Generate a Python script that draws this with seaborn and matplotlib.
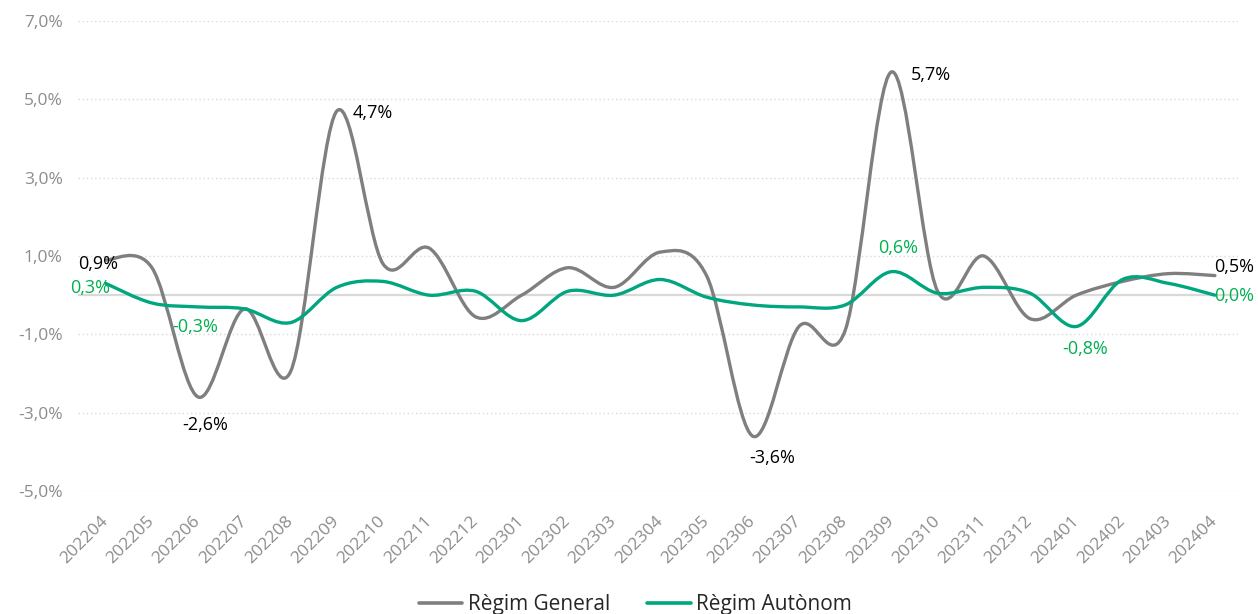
import numpy as np
import pandas as pd
import seaborn as sns
import matplotlib.pyplot as plt
from matplotlib.path import Path
from matplotlib.patches import PathPatch
from matplotlib.lines import Line2D

months = ["202204", "202205", "202206", "202207", "202208", "202209", "202210",
          "202211", "202212", "202301", "202302", "202303", "202304", "202305",
          "202306", "202307", "202308", "202309", "202310", "202311", "202312",
          "202401", "202402", "202403", "202404"]
general = [0.9, 0.7, -2.6, -0.35, -1.95, 4.7, 0.8, 1.2, -0.55, 0.0, 0.7, 0.2, 1.1,
           0.5, -3.6, -0.8, -0.9, 5.7, 0.1, 1.0, -0.6, 0.0, 0.35, 0.55, 0.5]
autonom = [0.3, -0.2, -0.3, -0.35, -0.7, 0.2, 0.35, 0.0, 0.1, -0.65, 0.1, 0.0, 0.4,
           -0.05, -0.25, -0.3, -0.25, 0.6, 0.05, 0.2, 0.05, -0.8, 0.4, 0.3, 0.0]

series = ["Règim General", "Règim Autònom"]
line_colors = {"Règim General": "#7f7f7f", "Règim Autònom": "#00a67e"}
label_colors = {"Règim General": "#000000", "Règim Autònom": "#00b050"}

# which points carry a label, and where the label sits (pixel offsets)
gen_label_idx = [0, 2, 5, 14, 17, 24]
gen_label_off = [(-8, -4), (7, -28), (36, -2), (19, -22), (39, -3), (19, 9)]
aut_label_idx = [0, 2, 17, 21, 24]
aut_label_off = [(-16, -5), (-3, -20), (7, 24), (9, -22), (19, -1)]


def fmt(v):
    return f"{v:.1f}%".replace(".", ",")


def smooth_path(x, y, k=1 / 6):
    # cubic bezier through the points, like a spreadsheet "smoothed line"
    n = len(x)
    verts = [(x[0], y[0])]
    codes = [Path.MOVETO]
    for i in range(n - 1):
        i0, i3 = max(i - 1, 0), min(i + 2, n - 1)
        c1 = (x[i] + (x[i + 1] - x[i0]) * k, y[i] + (y[i + 1] - y[i0]) * k)
        c2 = (x[i + 1] - (x[i3] - x[i]) * k, y[i + 1] - (y[i3] - y[i]) * k)
        verts += [c1, c2, (x[i + 1], y[i + 1])]
        codes += [Path.CURVE4] * 3
    return Path(verts, codes)


sns.set_style("white")
plt.rcParams["font.family"] = ["Open Sans", "DejaVu Sans"]

df = pd.DataFrame({"pos": range(len(months)), "Règim General": general,
                   "Règim Autònom": autonom})
df = df.melt(id_vars="pos", var_name="serie", value_name="valor")

fig = plt.figure(figsize=(12.58, 6.14), dpi=100)
ax = fig.add_axes([78 / 1258, 1 - 491 / 614, 1160 / 1258, 470 / 614])

ax.axhline(0, color="#d9d9d9", lw=1.6, zorder=1)

sns.lineplot(data=df, x="pos", y="valor", hue="serie", hue_order=series,
             palette=line_colors, linewidth=2.4, legend=False, sort=False, ax=ax)

# swap the straight segments for smoothed curves
for line in list(ax.lines)[1:]:
    xy = line.get_xydata()
    patch = PathPatch(smooth_path(xy[:, 0], xy[:, 1]), fill=False,
                      edgecolor=line.get_color(), lw=line.get_linewidth(),
                      capstyle="round", joinstyle="round", zorder=3)
    ax.add_patch(patch)
    line.remove()

for name, vals, idx, offs in [("Règim General", general, gen_label_idx, gen_label_off),
                              ("Règim Autònom", autonom, aut_label_idx, aut_label_off)]:
    for i, (dx, dy) in zip(idx, offs):
        ax.annotate(fmt(vals[i]), (i, vals[i]), xytext=(dx, dy),
                    textcoords="offset pixels", ha="center", va="center",
                    fontsize=13, color=label_colors[name], zorder=4)

ax.set_xlim(-0.6, 24.5)
ax.set_ylim(-5, 7)
ax.set_yticks(range(-5, 8, 2))
ax.set_yticklabels([fmt(v) for v in range(-5, 8, 2)])
ax.set_xticks(range(len(months)))
ax.set_xticklabels(months, rotation=45, ha="right", va="center",
                   rotation_mode="anchor")
ax.yaxis.grid(True, linestyle=(0, (1, 2)), color="#d9d9d9", lw=1)
ax.tick_params(axis="y", length=0, pad=11, labelsize=12.5, labelcolor="#8c8c8c")
ax.tick_params(axis="x", length=0, pad=20, labelsize=12.5, labelcolor="#8c8c8c")
ax.set_xlabel("")
ax.set_ylabel("")
for s in ax.spines.values():
    s.set_visible(False)

handles = [Line2D([], [], color=line_colors[s], lw=2.6) for s in series]
fig.legend(handles, series, loc="lower center", bbox_to_anchor=(0.505, -0.032),
           ncol=2, frameon=False, fontsize=15, handlelength=2.1,
           handletextpad=0.25, columnspacing=1.8)

fig.savefig("out.png", dpi=100)
